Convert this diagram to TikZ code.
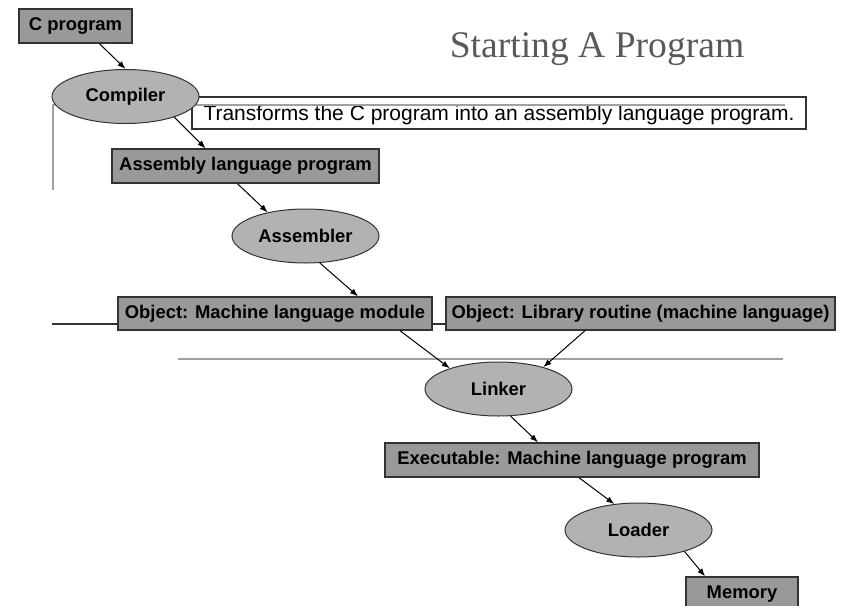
\documentclass[tikz,border=0pt]{standalone}
\usepackage{fontspec}
\setmainfont{Liberation Sans}
\newfontfamily\titlefont{Liberation Serif}
\usetikzlibrary{arrows.meta,shapes.geometric}
\definecolor{boxgray}{HTML}{999999}
\definecolor{ovalgray}{HTML}{B2B2B2}
\definecolor{rim}{HTML}{333333}
\definecolor{rule}{HTML}{A0A0A0}
\definecolor{headgray}{HTML}{595959}

\begin{document}
\begin{tikzpicture}[x=0.5pt,y=-0.5pt,
 box/.style={rectangle,draw=rim,fill=boxgray,line width=0.7pt,inner sep=0pt,
 font=\fontsize{9.2}{11}\selectfont\bfseries},
 oval/.style={ellipse,draw=rim,fill=ovalgray,line width=0.5pt,inner sep=0pt,
 minimum width=73.5pt,minimum height=27pt,font=\fontsize{9.2}{11}\selectfont\bfseries},
 note/.style={rectangle,draw=rim,fill=white,line width=0.7pt,inner sep=0pt,
 text height=11.5pt,text depth=4.5pt,font=\fontsize{10.5}{12}\selectfont},
 flow/.style={-{Latex[length=4pt,width=3pt]},line width=0.5pt,black}]
\clip (0,0) rectangle (851,605);
\node[anchor=base,text=headgray,font=\titlefont\fontsize{18.8}{22}\selectfont] (title) at (597,57) {Starting A Program};
\node[box,minimum width=56.5pt,minimum height=17pt] (cprog) at (75.5,26) {C program};
\node[note,minimum width=307pt] (note) at (499,113) {Transforms the C program into an assembly language program.};
% grey rules behind the flow
\draw[rule,line width=1.2pt] (53,190) -- (53,105) -- (785,105);
\draw[rim,line width=0.6pt] (52,324) -- (446,324);
\draw[rule,line width=1.2pt] (178,359) -- (783,359);
\node[oval] (compiler) at (125.5,96.5) {Compiler};
\node[box,minimum width=133.5pt,minimum height=17pt] (asm) at (245.5,166) {Assembly language program};
\node[oval] (assembler) at (305.5,236) {Assembler};
\node[box,minimum width=157pt,minimum height=16.5pt] (objml) at (275,313.5) {Object: Machine language module};
\node[box,minimum width=194.5pt,minimum height=16.5pt] (objlib) at (640.5,313.5) {Object: Library routine (machine language)};
\node[oval] (linker) at (498.5,389) {Linker};
\node[box,minimum width=187pt,minimum height=17pt] (exec) at (572,460) {Executable: Machine language program};
\node[oval] (loader) at (638.5,530) {Loader};
\node[box,minimum width=56pt,minimum height=17pt] (memory) at (742,594) {Memory};
\draw[flow] ([xshift=12pt]cprog.south) -- (compiler.north);
\draw[flow] (compiler.-23) -- ([xshift=-20pt]asm.north);
\draw[flow] ([xshift=-4pt]asm.south) -- (assembler.148);
\draw[flow] (assembler.-62) -- ([xshift=41.5pt]objml.north);
\draw[flow] ([xshift=62.5pt]objml.south) -- (linker.157);
\draw[flow] ([xshift=-27.75pt]objlib.south) -- (linker.26);
\draw[flow] (linker.-66) -- ([xshift=-17pt]exec.north);
\draw[flow] ([xshift=3.5pt]exec.south) -- (loader.133);
\draw[flow] (loader.-25) -- ([xshift=-18.5pt]memory.north);
\end{tikzpicture}
\end{document}
